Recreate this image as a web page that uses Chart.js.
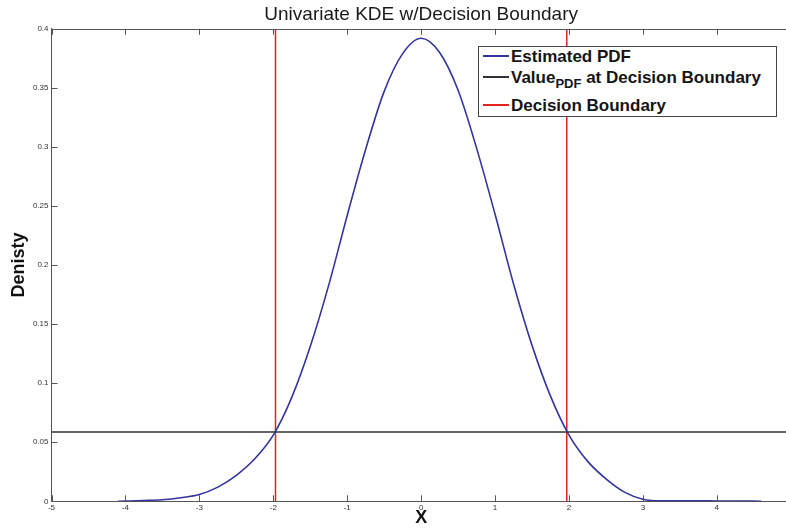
<!DOCTYPE html>
<html>
<head>
<meta charset="utf-8">
<script src="https://cdn.jsdelivr.net/npm/chart.js@4/dist/chart.umd.min.js"></script>
<style>
html,body{margin:0;padding:0;background:#fff;}
#wrap{position:relative;width:786px;height:529px;background:#fff;overflow:hidden;}
#c{position:absolute;left:0;top:0;}
#legend{position:absolute;left:478px;top:46px;width:299px;height:71px;border:1px solid #444;background:#fff;
  font-family:"Liberation Sans",Arial,Helvetica,sans-serif;font-size:17px;font-weight:bold;color:#151515;box-sizing:border-box;}
#legend .sw{position:absolute;left:4px;width:26px;height:2px;}
#legend .tx{position:absolute;left:32px;line-height:20px;white-space:nowrap;}
#legend sub{font-size:13px;vertical-align:-5px;line-height:0;}
</style>
</head>
<body>
<div id="wrap">
  <canvas id="c" width="795" height="529"></canvas>
  <div id="legend"></div>
</div>
<script>
// ---- data ----
const xValues   = [-4.1, -4.0, -3.75, -3.5, -3.25, -3.0, -2.75, -2.5, -2.25, -2.0, -1.75, -1.5, -1.25, -1.0, -0.75, -0.5, -0.25,
                   0.0, 0.25, 0.5, 0.75, 1.0, 1.25, 1.5, 1.75, 2.0, 2.25, 2.5, 2.75, 3.0, 3.25, 3.5, 3.75, 4.0, 4.25, 4.6];
const pdfValues = [0.0000, 0.0003, 0.0007, 0.0013, 0.0030, 0.0057, 0.0120, 0.0220, 0.0360, 0.0560, 0.0880, 0.1310, 0.1830, 0.2420, 0.2980, 0.3470, 0.3790,
                   0.3920, 0.3800, 0.3480, 0.2990, 0.2430, 0.1840, 0.1320, 0.0890, 0.0560, 0.0340, 0.0190, 0.0078, 0.0018, 0.0004, 0.0005, 0.0005, 0.0003, 0.0002, 0.0001];
const boundaryX = [-1.97, 1.97];
const boundaryPdfValue = 0.0587;
const xRange = [-5, 5];
const yRange = [0, 0.4];
const xTicks = [-5, -4, -3, -2, -1, 0, 1, 2, 3, 4, 5];
const xTickLabels = ['-5', '-4', '-3', '-2', '-1', '0', '1', '2', '3', '4', '5'];
const yTicks = [0, 0.05, 0.1, 0.15, 0.2, 0.25, 0.3, 0.35, 0.4];
const yTickLabels = ['0', '0.05', '0.1', '0.15', '0.2', '0.25', '0.3', '0.35', '0.4'];
const seriesNames = ['Estimated PDF', 'Value<sub>PDF</sub> at Decision Boundary', 'Decision Boundary'];
const seriesColors = ['#33359c', '#333333', '#e3231d'];
const titleText = 'Univariate KDE w/Decision Boundary';
const xTitle = 'X';
const yTitle = 'Denisty';

const FONT = '"Liberation Sans", Arial, Helvetica, sans-serif';

const pdfPoints = xValues.map((x, i) => ({x: x, y: pdfValues[i]}));
const hLine = [{x: xRange[0], y: boundaryPdfValue}, {x: xRange[1], y: boundaryPdfValue}];
const vLines = boundaryX.map(b => [{x: b, y: yRange[0]}, {x: b, y: yRange[1]}]);

const inwardTicks = {
  id: 'inwardTicks',
  afterDatasetsDraw(chart) {
    const {ctx, chartArea: {left, right, top, bottom}, scales: {x, y}} = chart;
    ctx.save();
    ctx.strokeStyle = '#555';
    ctx.lineWidth = 1;
    ctx.beginPath();
    ctx.moveTo(left, Math.round(top) + 0.5);
    ctx.lineTo(right, Math.round(top) + 0.5);
    x.ticks.forEach(t => {
      const px = Math.round(x.getPixelForValue(t.value)) + 0.5;
      ctx.moveTo(px, bottom); ctx.lineTo(px, bottom - 6);
      ctx.moveTo(px, top); ctx.lineTo(px, top + 6);
    });
    y.ticks.forEach(t => {
      const py = Math.round(y.getPixelForValue(t.value)) + 0.5;
      ctx.moveTo(left, py); ctx.lineTo(left + 6, py);
    });
    ctx.stroke();
    ctx.restore();
  }
};

const datasets = [
  {label: 'Estimated PDF', data: pdfPoints, borderColor: seriesColors[0], borderWidth: 1.6,
   pointRadius: 0, cubicInterpolationMode: 'monotone', fill: false},
  {label: 'Value PDF at Decision Boundary', data: hLine, borderColor: seriesColors[1], borderWidth: 1.6,
   pointRadius: 0, fill: false},
  ...vLines.map((v, i) => ({label: 'Decision Boundary', data: v, borderColor: seriesColors[2], borderWidth: 1.5,
   pointRadius: 0, fill: false}))
];

new Chart(document.getElementById('c'), {
  type: 'line',
  data: {datasets: datasets},
  options: {
    responsive: false,
    animation: false,
    devicePixelRatio: 1,
    layout: {padding: 0},
    plugins: {
      legend: {display: false},
      tooltip: {enabled: false},
      title: {display: true, fullSize: false, text: titleText, color: '#1a1a1a',
        font: {family: FONT, size: 19, weight: 'normal'}, padding: {top: 3, bottom: 3}}
    },
    scales: {
      x: {
        type: 'linear', min: xRange[0], max: xRange[1],
        afterBuildTicks: s => { s.ticks = xTicks.map(v => ({value: v})); },
        afterFit: s => { s.height = 27.7; },
        ticks: {font: {family: FONT, size: 8}, color: '#333', padding: 2, autoSkip: false, maxRotation: 0,
          callback: v => xTickLabels[xTicks.indexOf(v)]},
        grid: {display: false, drawTicks: false},
        border: {display: true, color: '#555', width: 1},
        title: {display: true, text: xTitle, color: '#111', font: {family: FONT, size: 18, weight: 'bold'},
          padding: {top: 0, bottom: 0}}
      },
      y: {
        type: 'linear', min: yRange[0], max: yRange[1],
        afterBuildTicks: s => { s.ticks = yTicks.map(v => ({value: v})); },
        afterFit: s => { s.width = 51.5; },
        ticks: {font: {family: FONT, size: 8}, color: '#333', padding: 3, autoSkip: false,
          callback: v => yTickLabels[yTicks.findIndex(t => Math.abs(t - v) < 1e-9)]},
        grid: {display: false, drawTicks: false},
        border: {display: true, color: '#555', width: 1},
        title: {display: true, text: yTitle, color: '#111', font: {family: FONT, size: 18, weight: 'bold'},
          padding: {top: 8, bottom: 0}}
      }
    }
  },
  plugins: [inwardTicks]
});

// HTML legend (keeps the subscript as real text)
const legendEl = document.getElementById('legend');
const swTops = [8.3, 29.3, 57.3];
const txTops = [-0.3, 21.3, 48.7];
seriesNames.forEach((name, i) => {
  const sw = document.createElement('div');
  sw.className = 'sw';
  sw.style.top = swTops[i] + 'px';
  sw.style.background = seriesColors[i];
  legendEl.appendChild(sw);
  const tx = document.createElement('div');
  tx.className = 'tx';
  tx.style.top = txTops[i] + 'px';
  tx.innerHTML = name;
  legendEl.appendChild(tx);
});
</script>
</body>
</html>
